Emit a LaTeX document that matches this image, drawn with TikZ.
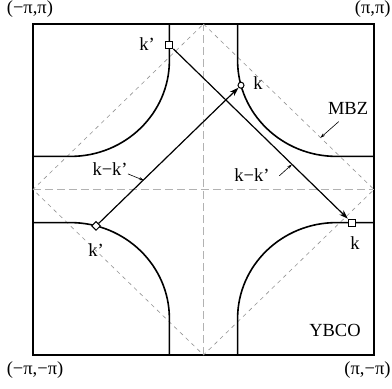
\documentclass[tikz,border=0pt]{standalone}
\usepackage{fontspec}
\setmainfont{Liberation Serif}
\usetikzlibrary{arrows.meta,positioning,shapes.geometric}

\begin{document}
\begin{tikzpicture}[
    x=170.5pt, y=165.5pt,
    lbl/.style={font=\fontsize{18.5}{21}\selectfont, inner sep=0pt},
    zone/.style={line width=1.6pt},
    fermi/.style={line width=1.6pt},
    axis/.style={gray!60, line width=1.2pt, dash pattern=on 8pt off 4pt},
    mbzline/.style={gray!85, line width=0.6pt, dash pattern=on 4pt off 4pt},
    sqmark/.style={rectangle, draw, fill=white, line width=1pt, minimum size=7pt, inner sep=0pt},
    dimark/.style={diamond, draw, fill=white, line width=1pt, minimum size=9pt, inner sep=0pt},
    cmark/.style={circle, draw, fill=white, line width=1pt, minimum size=6pt, inner sep=0pt},
    arrow/.style={-{Stealth[length=9pt,width=6pt]}, line width=1.2pt},
    pointer/.style={-{Stealth[length=5pt,width=3pt]}, line width=0.6pt},
]
\useasboundingbox (-1.1935,-1.1994) rectangle (1.1056,1.145);

% Brillouin zone
\draw[zone] (-1,-1) rectangle (1,1);

% dashed axes and magnetic zone
\draw[axis] (-1,0) -- (1,0);
\draw[axis] (0,-1) -- (0,1);
\draw[mbzline] (0,1) -- (1,0) -- (0,-1) -- (-1,0) -- cycle;

% Fermi surface, one piece per corner
\foreach \sx/\sy in {1/1,-1/1,-1/-1,1/-1}
    \draw[fermi, xscale=\sx, yscale=\sy] (0.2,1) -- (0.2,0.78) arc[start angle=180, end angle=270, radius=0.58] -- (1,0.2);

% points on the Fermi surface
\node[sqmark] (kpa) at (-0.2,0.873) {};
\node[cmark] (ka) at (0.22,0.63) {};
\node[dimark] (kpb) at (-0.63,-0.22) {};
\node[sqmark] (kb) at (0.87,-0.2) {};

\draw[arrow] (kpb) -- (ka);
\draw[arrow] (kpa) -- (kb);

% point labels
\node[lbl] (kpalab) at (-0.331,0.879) {k'};
\node[lbl] (kalab) at (0.32,0.644) {k};
\node[lbl] (kpblab) at (-0.63,-0.366) {k'};
\node[lbl] (kblab) at (0.889,-0.323) {k};

% other labels
\node[lbl] (qa) at (-0.548,0.124) {k−k'};
\node[lbl] (qb) at (0.284,0.088) {k−k'};
\node[lbl] (mbz) at (0.848,0.492) {MBZ};
\node[lbl] (ybco) at (0.771,-0.849) {YBCO};

\coordinate (qatail) at (-0.443,0.094);
\coordinate (qatip) at (-0.349,0.055);
\coordinate (qbtail) at (0.445,0.083);
\coordinate (qbtip) at (0.519,0.152);
\coordinate (mbztail) at (0.793,0.410);
\coordinate (mbztip) at (0.685,0.312);
\draw[pointer] (qatail) -- (qatip);
\draw[pointer] (qbtail) -- (qbtip);
\draw[pointer] (mbztail) -- (mbztip);

% corners
\node[lbl] (cnw) at (-1.018,1.091) {(−π,π)};
\node[lbl, anchor=east] (cne) at (1.098,1.091) {(π,π)};
\node[lbl] (csw) at (-0.988,-1.091) {(−π,−π)};
\node[lbl, anchor=east] (cse) at (1.098,-1.091) {(π,−π)};

\end{tikzpicture}
\end{document}
